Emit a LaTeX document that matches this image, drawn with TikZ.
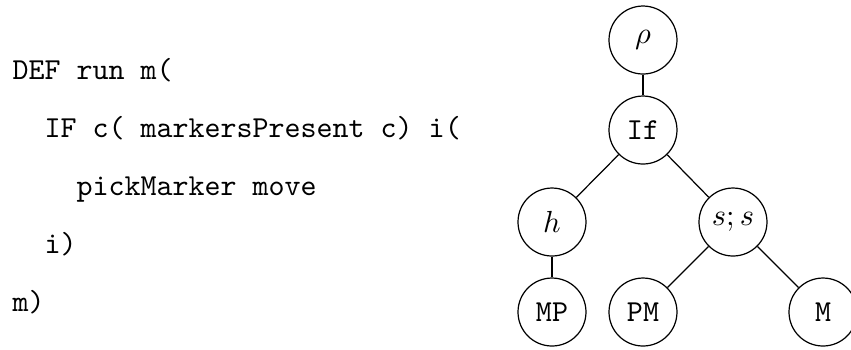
\documentclass[tikz,border=0pt]{standalone}
\begin{document}
\begin{tikzpicture}[x=0.328pt,y=-0.328pt,
  tn/.style={draw,circle,minimum size=22.3pt,inner sep=0pt},
  code/.style={anchor=base west,inner sep=0pt,font=\ttfamily}]
\useasboundingbox (0,0) rectangle (851,349);
% program text
\node[code] (l1) at (12,79) {DEF run m(};
\node[code] (l2) at (44,137) {IF c( markersPresent c) i(};
\node[code] (l3) at (76,195) {pickMarker move};
\node[code] (l4) at (44,253) {i)};
\node[code] (l5) at (12,311) {m)};
% syntax tree
\node[tn] (rho) at (643,40) {$\rho$};
\node[tn] (if) at (643,130) {\texttt{If}};
\node[tn] (h) at (552,222) {$h$};
\node[tn] (ss) at (733,222) {$s;s$};
\node[tn] (mp) at (552,312) {\texttt{MP}};
\node[tn] (pm) at (643,312) {\texttt{PM}};
\node[tn] (m) at (823,312) {\texttt{M}};
\draw (rho) -- (if);
\draw (if) -- (h);
\draw (if) -- (ss);
\draw (h) -- (mp);
\draw (ss) -- (pm);
\draw (ss) -- (m);
\end{tikzpicture}
\end{document}
